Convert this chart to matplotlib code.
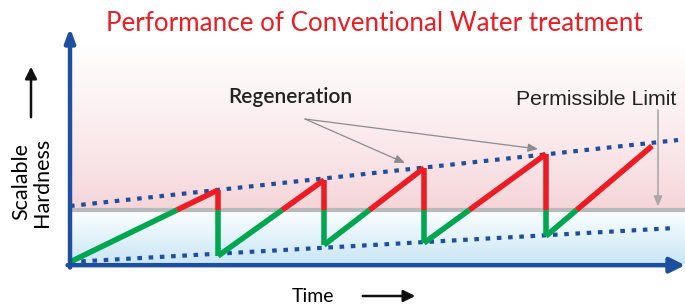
import numpy as np
import matplotlib.pyplot as plt
from matplotlib.patches import FancyArrowPatch

# saw-tooth of hardness vs time (arbitrary units)
saw_t = [0, 14.8, 14.8, 25.4, 25.4, 35.4, 35.4, 47.6, 47.6, 58.2]
saw_h = [0.2, 7.4, 0.8, 8.4, 1.9, 9.6, 2.1, 11.0, 2.8, 11.8]
limit = 5.4
upper_t = [0, 60.8]
upper_h = [5.8, 12.4]
lower_t = [0, 60.5]
lower_h = [0.2, 3.6]
regen_peaks = [(33.5, 10.1), (46.8, 11.5)]

blue = '#1d4f9e'
green = '#00a650'
red = '#ec1c24'

fig = plt.figure(figsize=(6.85, 3.04), dpi=100)
ax = fig.add_axes([70/685, 40/304, 615/685, 236/304])
ax.set_xlim(0, 61.5)
ax.set_ylim(0, 23.6)
ax.axis('off')

# background gradients
g = np.linspace(0, 1, 256).reshape(-1, 1)
pink_top = np.array([1.0, 1.0, 1.0])
pink_bot = np.array([0.96, 0.83, 0.845])
img = pink_bot + (pink_top - pink_bot) * g[:, :, None] ** 0.8
ax.imshow(img, extent=[0, 61.5, limit, 22.2], origin='lower', aspect='auto', zorder=0)
blue_top = np.array([0.99, 1.0, 1.0])
blue_bot = np.array([0.79, 0.9, 0.96])
img2 = blue_bot + (blue_top - blue_bot) * g[:, :, None]
ax.imshow(img2, extent=[0, 61.5, 0, limit], origin='lower', aspect='auto', zorder=0)

# permissible limit line
ax.plot([-0.2, 61.5], [limit, limit], color='#b9b9bb', lw=3, zorder=2, clip_on=False,
        solid_capstyle='butt')

# dotted trend lines
for tt, hh in [(upper_t, upper_h), (lower_t, lower_h)]:
    ax.plot(tt, hh, color=blue, lw=3, linestyle=(0, (1.1, 1.6)), dash_capstyle='butt', zorder=3)

# saw-tooth, green below limit, red above
for i in range(len(saw_t) - 1):
    t0, t1 = saw_t[i], saw_t[i + 1]
    h0, h1 = saw_h[i], saw_h[i + 1]
    if (h0 - limit) * (h1 - limit) < 0:
        f = (limit - h0) / (h1 - h0)
        tc = t0 + f * (t1 - t0)
        segs = [((t0, tc), (h0, limit)), ((tc, t1), (limit, h1))]
    else:
        segs = [((t0, t1), (h0, h1))]
    for st, sh in segs:
        c = red if np.mean(sh) > limit else green
        ax.plot(st, sh, color=c, lw=4, solid_capstyle='butt', zorder=4)

# axes arrows
ax.annotate('', xy=(1.0, -0.005), xytext=(-0.004, -0.005), xycoords='axes fraction',
            arrowprops=dict(arrowstyle='-|>,head_length=0.9,head_width=0.45', color=blue, lw=3.2,
                            shrinkA=0, shrinkB=0), zorder=5)
ax.annotate('', xy=(0, 1.0), xytext=(0, -0.015), xycoords='axes fraction',
            arrowprops=dict(arrowstyle='-|>,head_length=0.8,head_width=0.3', color=blue, lw=3.2,
                            shrinkA=0, shrinkB=0), zorder=5)

# annotations
ax.text(22.0, 16.1, 'Regeneration', fontsize=15, fontweight='semibold', ha='center',
        va='baseline', family='Lato', color='#222222')
for px, py in regen_peaks:
    ax.annotate('', xy=(px, py), xytext=(23.5, 14.5),
                arrowprops=dict(arrowstyle='-|>,head_length=0.6,head_width=0.25', color='#8c8c8c',
                                lw=0.9, shrinkA=0, shrinkB=0))
ax.text(44.6, 15.9, 'Permissible Limit', fontsize=15.3, ha='left', va='baseline',
        family='Liberation Sans', color='#222222')
ax.annotate('', xy=(58.8, limit + 0.35), xytext=(58.8, 15.4),
            arrowprops=dict(arrowstyle='-|>,head_length=0.6,head_width=0.25', color='#a8a8a8',
                            lw=1.2, shrinkA=0, shrinkB=0))

fig.text(374/685, 1 - 31/304, 'Performance of Conventional Water treatment', fontsize=18.7,
         color=red, ha='center', va='baseline', family='Lato')

# axis labels with arrows
fig.text(21/685, 1 - 182/304, 'Scalable', rotation=90, fontsize=15.5, ha='center', va='center',
         family='Lato')
fig.text(42/685, 1 - 182/304, 'Hardness', rotation=90, fontsize=15.5, ha='center', va='center',
         family='Lato')
fig.text(313/685, 1 - 302/304, 'Time', fontsize=14, ha='center', va='baseline', family='Lato')
fig.add_artist(FancyArrowPatch(
    (31/685, 1 - 120/304), (31/685, 1 - 64/304), transform=fig.transFigure,
    arrowstyle='-|>,head_length=7,head_width=3.5', color='#111111', lw=1.8, mutation_scale=1))
fig.add_artist(FancyArrowPatch(
    (360/685, 1 - 296/304), (418/685, 1 - 296/304), transform=fig.transFigure,
    arrowstyle='-|>,head_length=7,head_width=3.5', color='#111111', lw=1.8, mutation_scale=1))

fig.savefig('out.png', dpi=100)
